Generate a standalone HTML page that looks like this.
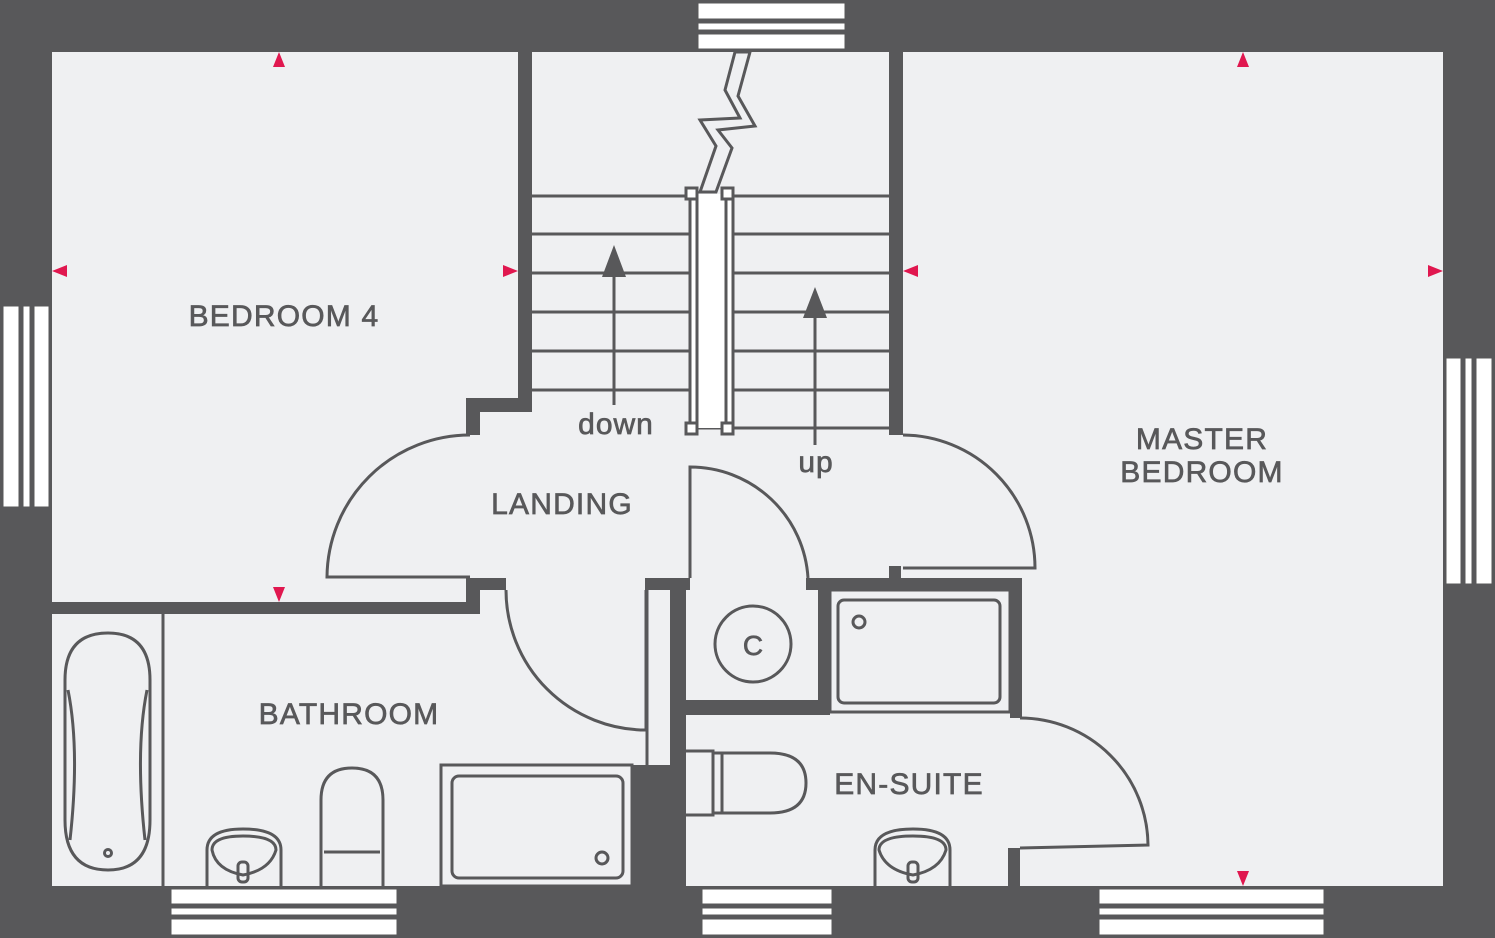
<!DOCTYPE html>
<html><head><meta charset="utf-8"><style>
html,body{margin:0;padding:0;background:#58585a;}
svg{display:block}
text{font-family:"Liberation Sans",sans-serif;fill:#58585a;stroke:#58585a;stroke-width:0.7;}
</style></head><body>
<svg width="1495" height="938" viewBox="0 0 1495 938" xmlns="http://www.w3.org/2000/svg">
<rect x="0" y="0" width="1495" height="938" fill="#58585a"/>
<rect x="52" y="52" width="1391" height="834" fill="#eff0f2"/>
<g fill="#58585a">
 <rect x="518" y="52" width="14" height="360"/>
 <rect x="466" y="398" width="66" height="14"/>
 <rect x="466" y="398" width="14" height="37"/>
 <rect x="889" y="52" width="14" height="383"/>
 <rect x="52" y="602" width="426" height="12"/>
 <rect x="466" y="578" width="40" height="12"/>
 <rect x="466" y="578" width="14" height="36"/>
 <rect x="645" y="578" width="45" height="12"/>
 <rect x="670" y="590" width="16" height="296"/>
 <rect x="633" y="765" width="53" height="121"/>
 <rect x="686" y="700" width="132" height="15"/>
 <rect x="806" y="578" width="24" height="12"/>
 <rect x="818" y="578" width="12" height="137"/>
 <rect x="818" y="578" width="204" height="12"/>
 <rect x="1010" y="578" width="12" height="140"/>
 <rect x="889" y="566" width="12" height="14"/>
 <rect x="1008" y="848" width="12" height="40"/>
</g>
<g fill="none" stroke="#58585a" stroke-width="3">
 <line x1="163" y1="614" x2="163" y2="886"/>
 <line x1="647" y1="590" x2="647" y2="765"/>
 <line x1="532" y1="196" x2="889" y2="196"/>
 <line x1="532" y1="234" x2="889" y2="234"/>
 <line x1="532" y1="273" x2="889" y2="273"/>
 <line x1="532" y1="312" x2="889" y2="312"/>
 <line x1="532" y1="351" x2="889" y2="351"/>
 <line x1="532" y1="390" x2="889" y2="390"/>
 <line x1="690" y1="428" x2="889" y2="428"/>
 <rect x="690" y="194" width="43" height="234" fill="#fff" stroke="none"/>
 <line x1="690" y1="194" x2="690" y2="428"/>
 <line x1="697" y1="194" x2="697" y2="428"/>
 <line x1="726" y1="194" x2="726" y2="428"/>
 <line x1="733" y1="194" x2="733" y2="428"/>
 <path d="M735 52 L725 90 L740 118 L700 120 L716 146 L700 192 L716 192 L732 148 L718 130 L755 126 L738 96 L750 52 Z" fill="#eff0f2"/>
 <line x1="614" y1="405" x2="614" y2="270"/>
 <line x1="815" y1="445" x2="815" y2="310"/>
 <path d="M470 435 A143 143 0 0 0 327 577 L470 577"/>
 <path d="M506 590 A140 140 0 0 0 646 730 L646 590"/>
 <path d="M690 578 L690 467 A118 118 0 0 1 808 578"/>
 <path d="M903 435 A133 133 0 0 1 1035 568 L903 568"/>
 <path d="M1020 718 A128 128 0 0 1 1148 845 L1020 848"/>
 <path d="M65 680 Q65 633 108 633 Q150 633 150 680 L150 820 Q150 870 108 870 Q65 870 65 820 Z"/>
 <path d="M68 690 Q80 750 70 840 M147 690 Q135 750 145 840"/>
 <circle cx="108" cy="853" r="3.5"/>
 <path d="M207 886 L207 850 Q207 829 243 829 Q281 829 281 850 L281 886"/>
 <path d="M212 850 Q212 836 243 836 Q276 836 276 850 Q270 870 243 875 Q216 870 212 850 Z"/>
 <rect x="238" y="862" width="10" height="20" rx="4"/>
 <path d="M321 886 L321 800 Q321 768 352 768 Q383 768 383 800 L383 886"/>
 <path d="M324 852 L380 852"/>
 <rect x="441" y="765" width="191" height="121"/>
 <rect x="452" y="776" width="171" height="102" rx="7"/>
 <circle cx="602" cy="858" r="6"/>
 <circle cx="753" cy="644" r="38"/>
 <rect x="830" y="590" width="180" height="122"/>
 <rect x="838" y="600" width="162" height="103" rx="6"/>
 <circle cx="859" cy="622" r="6"/>
 <path d="M686 751 L713 751 L713 815 L686 815"/>
 <path d="M713 753 L770 753 Q806 753 806 783 Q806 813 770 813 L713 813 M722 753 L722 813"/>
 <path d="M875 886 L875 850 Q875 829 913 829 Q950 829 950 850 L950 886"/>
 <path d="M879 850 Q879 836 913 836 Q946 836 946 850 Q940 870 913 875 Q885 870 879 850 Z"/>
 <rect x="908" y="862" width="10" height="20" rx="4"/>
</g>
<g fill="#fff" stroke="#58585a" stroke-width="3">
 <rect x="686" y="188" width="11" height="11"/>
 <rect x="722" y="188" width="11" height="11"/>
 <rect x="686" y="423" width="11" height="11"/>
 <rect x="722" y="423" width="11" height="11"/>
</g>
<g fill="#58585a">
 <polygon points="614,245 602,277 626,277"/>
 <polygon points="815,287 803,318 827,318"/>
</g>
<g fill="#fff" stroke="#58585a" stroke-width="3">
 <rect x="697" y="2" width="149" height="18"/><rect x="697" y="22" width="149" height="9"/><rect x="697" y="33" width="149" height="17"/>
 <rect x="2" y="305" width="18" height="203"/><rect x="22" y="305" width="9" height="203"/><rect x="33" y="305" width="17" height="203"/>
 <rect x="1445" y="357" width="17" height="228"/><rect x="1464" y="357" width="9" height="228"/><rect x="1475" y="357" width="18" height="228"/>
 <rect x="170" y="888" width="228" height="17"/><rect x="170" y="907" width="228" height="9"/><rect x="170" y="918" width="228" height="18"/>
 <rect x="701" y="888" width="132" height="17"/><rect x="701" y="907" width="132" height="9"/><rect x="701" y="918" width="132" height="18"/>
 <rect x="1098" y="888" width="227" height="17"/><rect x="1098" y="907" width="227" height="9"/><rect x="1098" y="918" width="227" height="18"/>
</g>
<g fill="#e0174f">
 <polygon points="279,52 273,67 285,67"/>
 <polygon points="279,602 273,587 285,587"/>
 <polygon points="52,271 67,265 67,277"/>
 <polygon points="518,271 503,265 503,277"/>
 <polygon points="903,271 918,265 918,277"/>
 <polygon points="1443,271 1428,265 1428,277"/>
 <polygon points="1243,52 1237,67 1249,67"/>
 <polygon points="1243,886 1237,871 1249,871"/>
</g>
<g font-size="30" letter-spacing="1.2" text-anchor="middle">
 <text x="284" y="326">BEDROOM 4</text>
 <text x="562" y="514">LANDING</text>
 <text x="1202" y="449">MASTER</text>
 <text x="1202" y="482">BEDROOM</text>
 <text x="349" y="724">BATHROOM</text>
 <text x="909" y="794">EN-SUITE</text>
</g>
<g font-size="30" text-anchor="middle" letter-spacing="1">
 <text x="616" y="434">down</text>
 <text x="816" y="472">up</text>
</g>
<text x="753" y="655" font-size="28" text-anchor="middle">C</text>
</svg>
</body></html>
